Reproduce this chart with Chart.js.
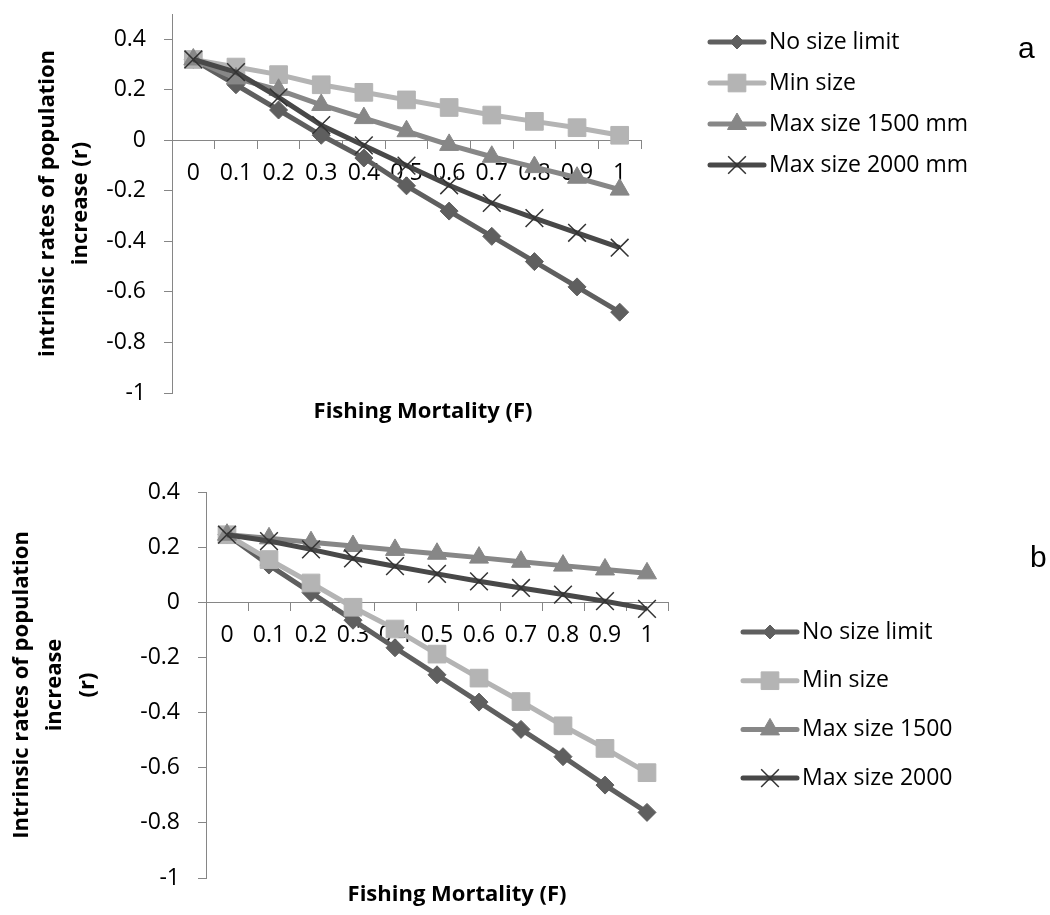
<!DOCTYPE html>
<html>
<head>
<meta charset="utf-8">
<script src="https://cdn.jsdelivr.net/npm/chart.js@4.4.1/dist/chart.umd.min.js"></script>
<style>
  body { margin: 0; background: #fff; }
  .panel { position: absolute; left: 0; }
  #panelA { top: 0; }
  #panelB { top: 440px; }
</style>
</head>
<body>
<div class="panel" id="panelA"><canvas id="chartA" width="1050" height="440"></canvas></div>
<div class="panel" id="panelB"><canvas id="chartB" width="1050" height="475"></canvas></div>
<script>
// Fishing mortality (F) categories shared by both panels
const fishingMortality = ['0', '0.1', '0.2', '0.3', '0.4', '0.5', '0.6', '0.7', '0.8', '0.9', '1'];

// Panel a: intrinsic rate of increase r
const namesA = ['No size limit', 'Min size', 'Max size 1500 mm', 'Max size 2000 mm'];
const noLimitA = [0.32, 0.22, 0.12, 0.02, -0.07, -0.18, -0.28, -0.38, -0.48, -0.58, -0.68];
const minSizeA = [0.32, 0.29, 0.26, 0.22, 0.19, 0.16, 0.13, 0.10, 0.075, 0.05, 0.02];
const max1500A = [0.32, 0.245, 0.2, 0.14, 0.088, 0.036, -0.018, -0.065, -0.106, -0.148, -0.195];
const max2000A = [0.32, 0.27, 0.17, 0.06, -0.02, -0.1, -0.178, -0.248, -0.308, -0.366, -0.425];

// Panel b
const namesB = ['No size limit', 'Min size', 'Max size 1500', 'Max size 2000'];
const noLimitB = [0.245, 0.135, 0.035, -0.065, -0.165, -0.263, -0.362, -0.461, -0.56, -0.663, -0.762];
const minSizeB = [0.245, 0.155, 0.07, -0.018, -0.097, -0.188, -0.275, -0.36, -0.448, -0.53, -0.618];
const max1500B = [0.245, 0.232, 0.218, 0.204, 0.19, 0.176, 0.162, 0.147, 0.133, 0.119, 0.105];
const max2000B = [0.245, 0.222, 0.192, 0.159, 0.131, 0.103, 0.076, 0.052, 0.028, 0.004, -0.024];

const yTitleA = ['intrinsic rates of population', 'increase (r)'];
const yTitleB = ['Intrinsic rates of population', 'increase', '(r)'];
const xTitle = 'Fishing Mortality (F)';

const FONT = '"Open Sans", sans-serif';
const LABEL_SIZE = 23;
const AXIS_GREY = '#868686';

// one style per harvest rule, same order as the names
const styles = [
  { color: '#5f5f5f', pointStyle: 'rectRot', radius: 9 },
  { color: '#b4b4b4', pointStyle: 'rect', radius: 12.5 },
  { color: '#878787', pointStyle: 'triangle', radius: 11 },
  { color: '#484848', pointStyle: 'crossRot', radius: 12.5, pointColor: '#333333' }
];

function buildDatasets(names, values) {
  return names.map((name, i) => {
    const s = styles[i];
    return {
      label: name,
      data: values[i],
      borderColor: s.color,
      backgroundColor: s.color,
      borderWidth: 5,
      borderJoinStyle: 'round',
      tension: 0,
      pointStyle: s.pointStyle,
      pointRadius: s.radius,
      pointHoverRadius: s.radius,
      pointBackgroundColor: s.color,
      pointBorderColor: s.pointColor || s.color,
      pointBorderWidth: s.pointStyle === 'crossRot' ? 1.5 : 1,
      order: names.length - i // later series drawn on top
    };
  });
}

// legend with line + marker samples, bottom axis title and panel letter
const figureDecor = {
  id: 'figureDecor',
  afterDraw(chart, args, opts) {
    const ctx = chart.ctx;
    const lg = opts.legend;
    ctx.save();
    chart.data.datasets.forEach((ds, i) => {
      const y = lg.y + i * lg.gap;
      const x0 = lg.x;
      const x1 = lg.x + lg.length;
      ctx.strokeStyle = ds.borderColor;
      ctx.lineWidth = 5;
      ctx.lineCap = 'round';
      ctx.beginPath();
      ctx.moveTo(x0, y);
      ctx.lineTo(x1, y);
      ctx.stroke();

      ctx.lineCap = 'butt';
      ctx.fillStyle = ds.pointBackgroundColor;
      ctx.strokeStyle = ds.pointBorderColor;
      ctx.lineWidth = ds.pointBorderWidth;
      Chart.helpers.drawPoint(ctx, {
        pointStyle: ds.pointStyle,
        radius: ds.pointStyle === 'rectRot' ? ds.pointRadius - 2 : ds.pointRadius,
        borderWidth: ds.pointBorderWidth,
        rotation: 0
      }, (x0 + x1) / 2, y);

      ctx.fillStyle = '#000';
      ctx.font = LABEL_SIZE + 'px ' + FONT;
      ctx.textAlign = 'left';
      ctx.textBaseline = 'middle';
      ctx.fillText(ds.label, x1 + 5, y);
    });

    ctx.font = 'bold 22px ' + FONT;
    ctx.textAlign = 'center';
    ctx.textBaseline = 'middle';
    ctx.fillStyle = '#000';
    ctx.fillText(opts.xTitle.text, opts.xTitle.x, opts.xTitle.y);

    ctx.font = '30px "Liberation Sans", Arial, sans-serif';
    ctx.textAlign = 'left';
    ctx.textBaseline = 'alphabetic';
    ctx.fillText(opts.panel.text, opts.panel.x, opts.panel.y);
    ctx.restore();
  }
};

function makeChart(canvasId, cfg) {
  return new Chart(document.getElementById(canvasId), {
    type: 'line',
    data: {
      labels: fishingMortality,
      datasets: buildDatasets(cfg.names, cfg.values)
    },
    options: {
      responsive: false,
      animation: false,
      events: [],
      layout: { padding: cfg.padding },
      plugins: {
        legend: { display: false },
        tooltip: { enabled: false },
        figureDecor: cfg.decor
      },
      scales: {
        x: {
          type: 'category',
          position: { y: 0 },
          offset: true,
          ticks: {
            color: '#000',
            font: { family: FONT, size: LABEL_SIZE },
            padding: 11,
            maxRotation: 0,
            autoSkip: false
          },
          grid: { offset: true, drawOnChartArea: false, tickLength: 8, color: AXIS_GREY },
          border: { color: AXIS_GREY, width: 1 }
        },
        y: {
          min: -1,
          max: cfg.yMax,
          afterFit: s => { s.width = cfg.axisWidth; s.paddingTop = 0; s.paddingBottom = 0; },
          ticks: {
            stepSize: 0.2,
            includeBounds: false,
            autoSkip: false,
            color: '#000',
            font: { family: FONT, size: LABEL_SIZE },
            padding: 18,
            callback: v => String(Math.round(v * 10) / 10)
          },
          grid: { drawOnChartArea: false, tickLength: 8, color: AXIS_GREY },
          border: { color: AXIS_GREY, width: 1 },
          title: {
            display: true,
            text: cfg.yTitle,
            color: '#000',
            font: { family: FONT, size: 22, weight: 'bold', lineHeight: '33px' },
            padding: { top: cfg.titleOffset, bottom: 0 }
          }
        }
      }
    },
    plugins: [figureDecor]
  });
}

makeChart('chartA', {
  names: namesA,
  values: [noLimitA, minSizeA, max1500A, max2000A],
  yMax: 0.5,
  yTitle: yTitleA,
  axisWidth: 172,
  titleOffset: 31.5,
  padding: { left: 0, top: 8, right: 409, bottom: 47 },
  decor: {
    legend: { x: 710, y: 42, gap: 41, length: 54 },
    xTitle: { text: xTitle, x: 423, y: 412 },
    panel: { text: 'a', x: 1018, y: 58 }
  }
});

makeChart('chartB', {
  names: namesB,
  values: [noLimitB, minSizeB, max1500B, max2000B],
  yMax: 0.4,
  yTitle: yTitleB,
  axisWidth: 206,
  titleOffset: 5.5,
  padding: { left: 0, top: 52, right: 382, bottom: 37 },
  decor: {
    legend: { x: 743, y: 192, gap: 48.7, length: 54 },
    xTitle: { text: xTitle, x: 457, y: 455 },
    panel: { text: 'b', x: 1030, y: 127 }
  }
});
</script>
</body>
</html>
